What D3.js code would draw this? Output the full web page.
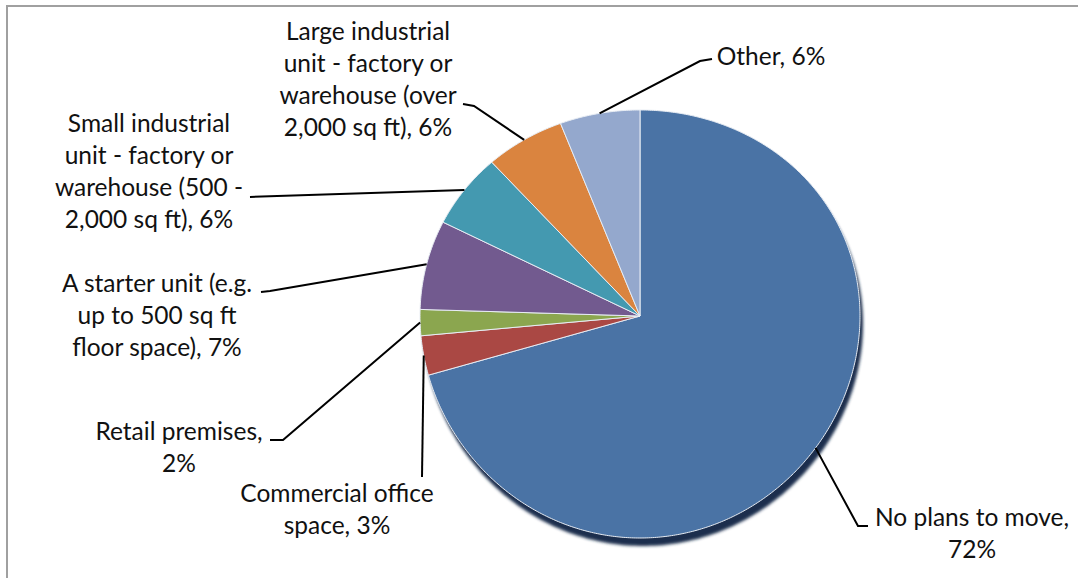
<!DOCTYPE html>
<html><head><meta charset="utf-8">
<script src="https://cdn.jsdelivr.net/npm/d3@7/dist/d3.min.js"></script>
<style>html,body{margin:0;padding:0;background:#fff;} svg{display:block;}</style>
</head><body>
<svg id="chart" width="1078" height="578"></svg>
<script>
// ---- data ----
const categories = ["No plans to move","Commercial office space","Retail premises",
  "A starter unit (e.g. up to 500 sq ft floor space)",
  "Small industrial unit - factory or warehouse (500 - 2,000 sq ft)",
  "Large industrial unit - factory or warehouse (over 2,000 sq ft)","Other"];
const values = [72,3,2,7,6,6,6];
const colors = ["#4A73A5","#AA4844","#8BA64F","#725A8F","#4499B0","#DA843F","#94A8CD"];
const labelLines = [
  ["No plans to move,","{v}%"],
  ["Commercial office","space, {v}%"],
  ["Retail premises,","{v}%"],
  ["A starter unit (e.g.","up to 500 sq ft","floor space), {v}%"],
  ["Small industrial","unit - factory or","warehouse (500 -","2,000 sq ft), {v}%"],
  ["Large industrial","unit - factory or","warehouse (over","2,000 sq ft), {v}%"],
  ["Other, {v}%"]
];

// ---- layout ----
const W = 1078, H = 578;
const cx = 640, cy = 316, rx = 220;
const lineH = 32;
const labelLayout = [
  {x:972, y:526, leader:[[868,526],[858,526]]},
  {x:337, y:502, leader:[[422,477]]},
  {x:179, y:440, leader:[[270,440],[283,440]]},
  {x:157, y:292, leader:[[261,292],[270,291]]},
  {x:149, y:132, leader:[[250,197]]},
  {x:368, y:40,  leader:[[463,104],[474,106]]},
  {x:771, y:65,  leader:[[712,59],[700,61]]}
];

const svg = d3.select("#chart");
svg.append("rect").attr("width",W).attr("height",H).attr("fill","#fff");
svg.append("rect").attr("x",7).attr("y",6).attr("width",W+20).attr("height",H+20)
  .attr("fill","none").attr("stroke","#a0a0a0").attr("stroke-width",2);

const defs = svg.append("defs");
defs.append("filter").attr("id","blur").attr("x","-10%").attr("y","-10%").attr("width","120%").attr("height","120%")
  .append("feGaussianBlur").attr("stdDeviation",1.6);

// slight perspective: vertical radius 206 at top, 222 at bottom
function proj(theta, r){
  const s = Math.sin(theta), c = Math.cos(theta);
  const ky = 214 - 8*c;
  return [cx + r*rx*s, cy - r*ky*c];
}
const line = d3.line();
function slicePath(a0, a1){
  const n = Math.max(2, Math.ceil((a1-a0)/(Math.PI/360)));
  const pts = [[cx,cy]];
  for(let i=0;i<=n;i++) pts.push(proj(a0 + (a1-a0)*i/n, 1));
  return line(pts) + "Z";
}

const pie = d3.pie().sort(null).value(d=>d);
const arcs = pie(values);

// shadow
const shadowPts = d3.range(0, 361).map(i => proj(i*Math.PI/180, 1));
svg.append("path").attr("d", line(shadowPts)+"Z").attr("fill","#1a2f4e")
  .attr("transform","translate(3,8)").attr("filter","url(#blur)");

// slices
svg.append("g").selectAll("path").data(arcs).join("path")
  .attr("d", d => slicePath(d.startAngle, d.endAngle))
  .attr("fill", (d,i) => colors[i])
  .attr("stroke","#e8edf4").attr("stroke-width",1).attr("stroke-linejoin","round");

// leaders
const gL = svg.append("g");
arcs.forEach((d,i) => {
  const mid = (d.startAngle + d.endAngle)/2;
  const end = proj(mid, 1.0);
  const pts = labelLayout[i].leader.concat([end]);
  gL.append("path").attr("d", line(pts)).attr("fill","none")
    .attr("stroke","#000").attr("stroke-width",2);
});

// labels
const gT = svg.append("g").attr("font-family","Lato, 'Open Sans', sans-serif")
  .attr("font-size",24.5).attr("fill","#111").attr("text-anchor","middle");
labelLines.forEach((lines,i) => {
  const lay = labelLayout[i];
  const t = gT.append("text").attr("x",lay.x).attr("y",lay.y);
  lines.forEach((ln,j) => {
    t.append("tspan").attr("x",lay.x).attr("y",lay.y + j*lineH)
      .text(ln.replace("{v}", values[i]));
  });
});
</script>
</body></html>
